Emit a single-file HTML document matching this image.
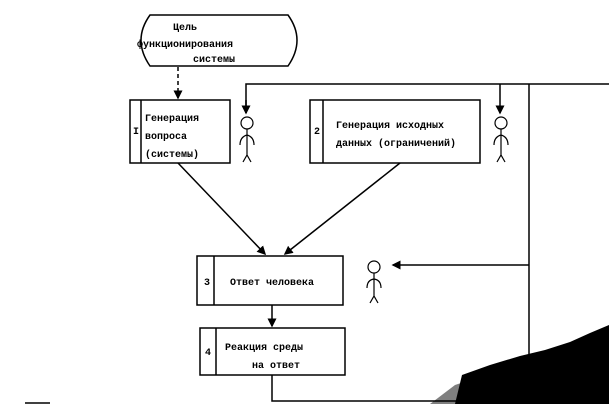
<!DOCTYPE html>
<html><head><meta charset="utf-8"><style>
body{margin:0;background:#fff;}
svg{display:block}
text{font-family:"Liberation Mono","DejaVu Sans Mono",monospace;font-size:10px;fill:#000;font-weight:bold}
</style></head><body>
<svg width="609" height="404" viewBox="0 0 609 404" xmlns="http://www.w3.org/2000/svg">
<defs><marker id="a" markerWidth="6" markerHeight="6" refX="5" refY="3" orient="auto"><path d="M0,0 L6,3 L0,6z" fill="#000"/></marker></defs>
<g fill="none" stroke="#000" stroke-width="1.5">
<path d="M150,15 H288 Q306,40 288,66 H150 Q132,40 150,15Z"/>
<path d="M178,67 V98" stroke-dasharray="4,3" marker-end="url(#a)"/>
<rect x="130" y="100" width="100" height="63"/><line x1="141" y1="100" x2="141" y2="163"/>
<rect x="310" y="100" width="170" height="63"/><line x1="323" y1="100" x2="323" y2="163"/>
<rect x="197" y="256" width="146" height="49"/><line x1="214" y1="256" x2="214" y2="305"/>
<rect x="200" y="328" width="145" height="47"/><line x1="216" y1="328" x2="216" y2="375"/>
<path d="M178,163 L265,254" marker-end="url(#a)"/>
<path d="M400,163 L285,254" marker-end="url(#a)"/>
<path d="M272,305 V326" marker-end="url(#a)"/>
<path d="M272,375 V401 H529 V84"/>
<path d="M246,113 V84 H609"/>
<path d="M500,84 V113" marker-end="url(#a)"/>
<path d="M246,100 V113" marker-end="url(#a)"/>
<path d="M529,265 H393" marker-end="url(#a)"/>
<g stroke-width="1.2">
<circle cx="247" cy="123" r="6"/><path d="M247,129 V155 M240,145 Q240,137 247,135 Q254,137 254,145 M243,162 L247,155 L251,162"/>
<circle cx="501" cy="123" r="6"/><path d="M501,129 V155 M494,145 Q494,137 501,135 Q508,137 508,145 M497,162 L501,155 L505,162"/>
<circle cx="374" cy="267" r="6"/><path d="M374,273 V296 M367,288 Q367,280 374,279 Q381,280 381,288 M370,303 L374,296 L378,303"/>
</g>
<line x1="25" y1="403" x2="50" y2="403"/>
</g>
<path d="M455,404 L462,375 L490,365 L520,356 L545,350 L570,342 L590,333 L609,325 V404Z" fill="#000"/>
<path d="M430,404 L455,385 L470,380 L462,404Z" fill="#000" opacity=".5"/>
<text x="173" y="30">Цель</text>
<text x="137" y="47">функционирования</text>
<text x="193" y="62">системы</text>
<text x="133" y="134">I</text>
<text x="145" y="121">Генерация</text>
<text x="145" y="139">вопроса</text>
<text x="145" y="157">(системы)</text>
<text x="314" y="134">2</text>
<text x="336" y="128">Генерация исходных</text>
<text x="336" y="146">данных (ограничений)</text>
<text x="204" y="285">3</text>
<text x="230" y="285">Ответ человека</text>
<text x="205" y="355">4</text>
<text x="225" y="350">Реакция среды</text>
<text x="252" y="368">на ответ</text>
</svg>
</body></html>
